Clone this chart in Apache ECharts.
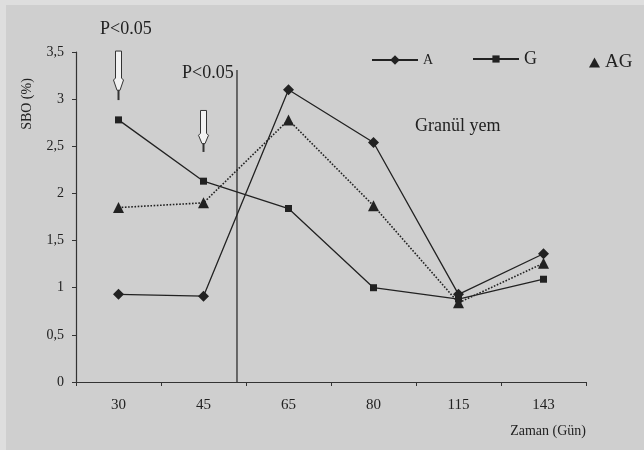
<!DOCTYPE html>
<html><head><meta charset="utf-8">
<script src="https://cdn.jsdelivr.net/npm/echarts@6/dist/echarts.min.js"></script>
<style>
html,body{margin:0;padding:0;background:#dedede}
#wrap{position:relative;width:644px;height:450px;overflow:hidden}
#bg{position:absolute;left:6px;top:5px;right:0;bottom:0;background:#cfcfcf}
#c{position:absolute;left:0;top:0;width:644px;height:450px}
</style>
</head><body>
<div id="wrap"><div id="bg"></div><div id="c"></div></div>
<script>
const categories = ['30', '45', '65', '80', '115', '143'];
const seriesA  = [0.93, 0.91, 3.10, 2.54, 0.93, 1.36];
const seriesG  = [2.78, 2.13, 1.84, 1.00, 0.88, 1.09];
const seriesAG = [1.85, 1.90, 2.78, 1.87, 0.84, 1.26];
const yMin = 0, yMax = 3.5, yStep = 0.5;
// vertical separator line (in category-position units) and its top value
const sepX = 1.894, sepTop = 3.31;
// arrows: [category index, top value, bottom value]
const arrows = [[0, 3.51, 2.99], [1, 2.88, 2.44]];

const serif = '"Liberation Serif", "DejaVu Serif", serif';
const ink = '#222';

function textEl(id, left, top, text, size) {
  return {type: 'text', id: id, left: left, top: top, z: 10,
    style: {text: text, fontFamily: 'Liberation Serif', fontSize: size, fill: ink, stroke: null, lineWidth: 0}};
}

const chart = echarts.init(document.getElementById('c'), null, {renderer: 'canvas'});
chart.setOption({
  backgroundColor: 'transparent',
  animation: false,
  textStyle: {fontFamily: serif},
  grid: {left: 76, right: 58, top: 52, bottom: 68, containLabel: false},
  legend: [
    {data: ['A'], left: 371, top: 53, padding: 0, itemWidth: 46, itemHeight: 12, itemGap: 0,
     textStyle: {fontFamily: serif, fontSize: 14, color: ink}},
    {data: ['G'], left: 472, top: 50, padding: 0, itemWidth: 46, itemHeight: 9, itemGap: 0,
     textStyle: {fontFamily: serif, fontSize: 18, color: ink}},
    {data: [{name: 'AG', icon: 'triangle'}], left: 589, top: 53, padding: 0, itemWidth: 11, itemHeight: 10,
     textStyle: {fontFamily: serif, fontSize: 19, color: ink}}
  ],
  xAxis: [{
    type: 'category', data: categories, boundaryGap: true,
    name: 'Zaman (Gün)', nameLocation: 'end', nameGap: 0,
    nameTextStyle: {fontFamily: serif, fontSize: 14, color: ink, align: 'right', verticalAlign: 'top', padding: [42, 0, 0, 0]},
    axisLine: {lineStyle: {color: '#333', width: 1.2}},
    axisTick: {show: true, inside: false, length: 4, lineStyle: {color: '#333'}},
    axisLabel: {fontFamily: serif, fontSize: 15, color: ink, margin: 16},
    splitLine: {show: false}
  }, {
    type: 'value', min: 0, max: 6, show: false
  }],
  yAxis: {
    type: 'value', min: yMin, max: yMax, interval: yStep,
    axisLine: {show: true, lineStyle: {color: '#333', width: 1.2}},
    axisTick: {show: true, inside: false, length: 4, lineStyle: {color: '#333'}},
    axisLabel: {fontFamily: serif, fontSize: 14, color: ink, margin: 12,
      formatter: v => String(v).replace('.', ',')},
    splitLine: {show: false}
  },
  series: [
    {name: 'A', type: 'line', data: seriesA, symbol: 'diamond', symbolSize: 11,
     itemStyle: {color: ink}, lineStyle: {color: ink, width: 1.3}},
    {name: 'G', type: 'line', data: seriesG, symbol: 'rect', symbolSize: 7,
     itemStyle: {color: ink}, lineStyle: {color: ink, width: 1.3}},
    {name: 'AG', type: 'line', data: seriesAG, symbol: 'triangle', symbolSize: 11,
     itemStyle: {color: ink}, lineStyle: {color: ink, width: 1.6, type: 'dotted'}},
    {name: 'sep', type: 'line', xAxisIndex: 1, data: [[sepX, 0], [sepX, sepTop]],
     symbol: 'none', lineStyle: {color: ink, width: 1.2}, silent: true}
  ]
});

const g = [
  textEl('t1', 100, 20, 'P<0.05', 18),
  textEl('t2', 182, 64, 'P<0.05', 18),
  textEl('t3', 415, 117, 'Granül yem', 18),
  {type: 'text', id: 'yname', x: 27, y: 104, rotation: Math.PI / 2, z: 10,
   style: {text: 'SBO (%)', fontFamily: 'Liberation Serif', fontSize: 14, fill: ink,
           align: 'center', verticalAlign: 'middle', stroke: null, lineWidth: 0}}
];
// arrows positioned through the axes
arrows.forEach(([ci, vt, vb], i) => {
  const top = chart.convertToPixel({xAxisIndex: 0, yAxisIndex: 0}, [ci, vt]);
  const bot = chart.convertToPixel({xAxisIndex: 0, yAxisIndex: 0}, [ci, vb]);
  const x = top[0], y0 = top[1], y1 = bot[1];
  const h = y1 - y0;
  const shaftEnd = y0 + h * 0.55, tip = y0 + h * 0.8;
  g.push({type: 'polygon', id: 'ap' + i, z: 10, shape: {points: [
      [x - 3, y0], [x + 3, y0], [x + 3, shaftEnd], [x + 5, shaftEnd + 2],
      [x + 1.5, tip], [x - 1.5, tip], [x - 5, shaftEnd + 2], [x - 3, shaftEnd]]},
    style: {fill: '#f2f2f2', stroke: '#333', lineWidth: 1}});
  g.push({type: 'line', id: 'al' + i, z: 10, shape: {x1: x, y1: tip, x2: x, y2: y1},
    style: {stroke: '#333', lineWidth: 2}});
});
chart.setOption({graphic: g});
</script>
</body></html>
